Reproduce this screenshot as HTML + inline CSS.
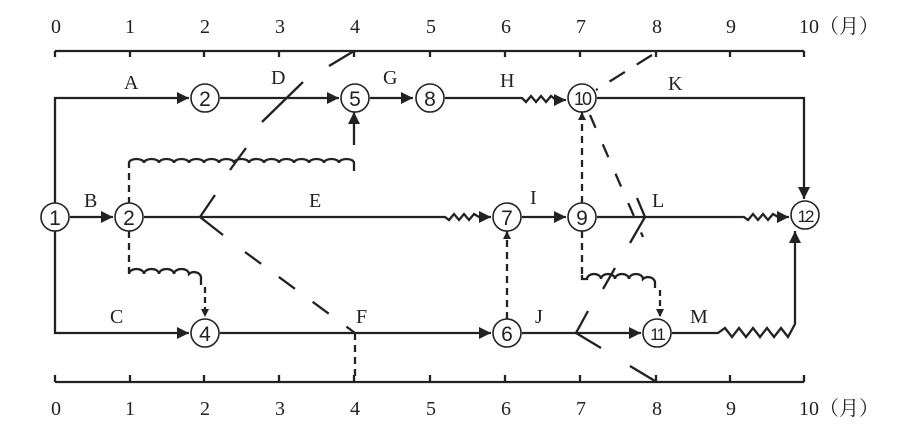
<!DOCTYPE html>
<html><head><meta charset="utf-8"><style>
html,body{margin:0;padding:0;background:#fff;}
svg{display:block;}
text{font-family:"Liberation Serif","Noto Serif CJK SC",serif;font-size:20px;fill:#222;}
.n{font-family:"Liberation Sans",sans-serif;font-size:21px;text-anchor:middle;}
</style></head><body>
<svg width="918" height="429" viewBox="0 0 918 429" xmlns="http://www.w3.org/2000/svg">
<defs>
<marker id="a" viewBox="0 0 10 10" refX="10" refY="5" markerWidth="8" markerHeight="8" orient="auto" markerUnits="userSpaceOnUse"><path d="M0,0 L10,5 L0,10 z" fill="#222"/></marker>
<marker id="b" viewBox="0 0 10 10" refX="10" refY="5" markerWidth="15" markerHeight="12" orient="auto" markerUnits="userSpaceOnUse"><path d="M0,0 L10,5 L0,10 z" fill="#222"/></marker>
</defs>
<g stroke="#222" stroke-width="2.3" fill="none">
<path d="M55,51 H804 M55,382 H804"/>
<path d="M55,51v6 M130,51v6 M204,51v6 M279,51v6 M354,51v6 M430,51v6 M505,51v6 M580,51v6 M656,51v6 M730,51v6 M804,51v6"/>
<path d="M55,382v-7 M130,382v-7 M204,382v-7 M279,382v-7 M354,382v-7 M430,382v-7 M505,382v-7 M580,382v-7 M656,382v-7 M730,382v-7 M804,382v-7"/>
<path d="M55,203 V98 H189" marker-end="url(#b)"/>
<path d="M220,98 H339" marker-end="url(#b)"/>
<path d="M370,98 H413" marker-end="url(#b)"/>
<path d="M445,98 H522 l4,4 l5,-6 l5,6 l5,-6 l5,6 l5,-6 l5,4 H566" marker-end="url(#b)"/>
<path d="M597,98 H804 V199" marker-end="url(#b)"/>
<path d="M70,217 H113" marker-end="url(#b)"/>
<path d="M144,217 H445 l4,3 l5,-6 l5,6 l5,-6 l5,6 l5,-6 l5,3 H491" marker-end="url(#b)"/>
<path d="M522,217 H566" marker-end="url(#b)"/>
<path d="M597,217 H744 l4,3 l5,-6 l5,6 l5,-6 l5,6 l5,-6 l5,3 H789" marker-end="url(#b)"/>
<path d="M55,231 V333 H189" marker-end="url(#b)"/>
<path d="M220,333 H491" marker-end="url(#b)"/>
<path d="M522,333 H641" marker-end="url(#b)"/>
<path d="M672,333 H718 l7,-5 l7,9 l7,-9 l7,9 l7,-9 l7,9 l7,-9 l7,9 l7,-9 l7,9 l7,-13 V231" marker-end="url(#b)"/>
<path d="M129,204 V168" stroke-dasharray="7,5"/>
<path d="M129,168 V163 a7.5,4 0 0 1 15,0 a7.5,4 0 0 1 15,0 a7.5,4 0 0 1 15,0 a7.5,4 0 0 1 15,0 a7.5,4 0 0 1 15,0 a7.5,4 0 0 1 15,0 a7.5,4 0 0 1 15,0 a7.5,4 0 0 1 15,0 a7.5,4 0 0 1 15,0 a7.5,4 0 0 1 15,0 a7.5,4 0 0 1 15,0 a7.5,4 0 0 1 15,0 a7.5,4 0 0 1 15,0 a7.5,4 0 0 1 15,0 a7.5,4 0 0 1 15,0 V171"/>
<path d="M354,145 V112" marker-end="url(#b)"/>
<path d="M129,231 V268" stroke-dasharray="7,5"/>
<path d="M129,268 V274 a7.5,5 0 0 1 15,0 a7.5,5 0 0 1 15,0 a7.5,5 0 0 1 15,0 a7.5,5 0 0 1 15,0 a7,6 0 0 1 12,3 V285"/>
<path d="M205,287 V317" stroke-dasharray="6,4" marker-end="url(#a)"/>
<path d="M507,319 V231" stroke-dasharray="7,5" marker-end="url(#a)"/>
<path d="M582,203 V112" stroke-dasharray="7,5" marker-end="url(#a)"/>
<path d="M582,231 V275" stroke-dasharray="7,5"/>
<path d="M582,275 V279 l5,0 a7,5 0 0 1 14,0 a7,5 0 0 1 14,0 a7,5 0 0 1 14,0 a7,5 0 0 1 14,0 a7,6 0 0 1 12,3 V288"/>
<path d="M660,290 V317" stroke-dasharray="6,4" marker-end="url(#a)"/>
<path d="M354,51 L329,66"/>
<path d="M303,82 L262,122"/>
<path d="M246,148 L230,170"/>
<path d="M215,195 L200,217 L223,235"/>
<path d="M245,252 L355,333" stroke-dasharray="20,22"/>
<path d="M355,333 V382" stroke-dasharray="7,5"/>
<path d="M652,55 L596,90" stroke-dasharray="18,14"/>
<path d="M590,115 L643,237" stroke-dasharray="14,18"/>
<path d="M637,198 L645,217 L630,243"/>
<path d="M603,289 L615,268"/>
<path d="M588,311 L576,333 L601,348"/>
<path d="M630,366 L655,381"/>
</g>
<g stroke="#222" stroke-width="1.6" fill="#fff">
<circle cx="55" cy="217" r="14"/><circle cx="129" cy="217" r="14"/><circle cx="205" cy="98" r="14"/>
<circle cx="355" cy="98" r="14"/><circle cx="430" cy="98" r="14"/><circle cx="582" cy="98" r="14"/>
<circle cx="507" cy="217" r="14"/><circle cx="582" cy="217" r="14"/><circle cx="805" cy="215" r="14"/>
<circle cx="205" cy="333" r="14"/><circle cx="507" cy="333" r="14"/><circle cx="657" cy="333" r="14"/>
</g>
<text class="n" x="55" y="225">1</text><text class="n" x="129" y="225">2</text><text class="n" x="205" y="106">2</text>
<text class="n" x="355" y="106">5</text><text class="n" x="430" y="106">8</text><text class="n" x="582" y="105" style="font-size:18px;letter-spacing:-2px">10</text>
<text class="n" x="507" y="225">7</text><text class="n" x="582" y="225">9</text><text class="n" x="805" y="222" style="font-size:17px;letter-spacing:-2px">12</text>
<text class="n" x="205" y="341">4</text><text class="n" x="507" y="341">6</text><text class="n" x="657" y="340" style="font-size:17px;letter-spacing:-2px">11</text>
<text x="124" y="89">A</text><text x="271" y="84">D</text><text x="383" y="84">G</text><text x="500" y="87">H</text><text x="668" y="90">K</text>
<text x="84" y="207">B</text><text x="309" y="207">E</text><text x="530" y="204">I</text><text x="652" y="207">L</text>
<text x="110" y="323">C</text><text x="356" y="323">F</text><text x="535" y="323">J</text><text x="690" y="323">M</text>
<text x="51" y="33">0</text><text x="125" y="33">1</text><text x="200" y="33">2</text><text x="275" y="33">3</text><text x="350" y="33">4</text><text x="426" y="33">5</text><text x="501" y="33">6</text><text x="576" y="33">7</text><text x="652" y="33">8</text><text x="726" y="33">9</text><text x="799" y="33">10（月）</text>
<text x="51" y="415">0</text><text x="125" y="415">1</text><text x="200" y="415">2</text><text x="275" y="415">3</text><text x="350" y="415">4</text><text x="426" y="415">5</text><text x="501" y="415">6</text><text x="576" y="415">7</text><text x="652" y="415">8</text><text x="726" y="415">9</text><text x="799" y="415">10（月）</text>
</svg>
</body></html>
